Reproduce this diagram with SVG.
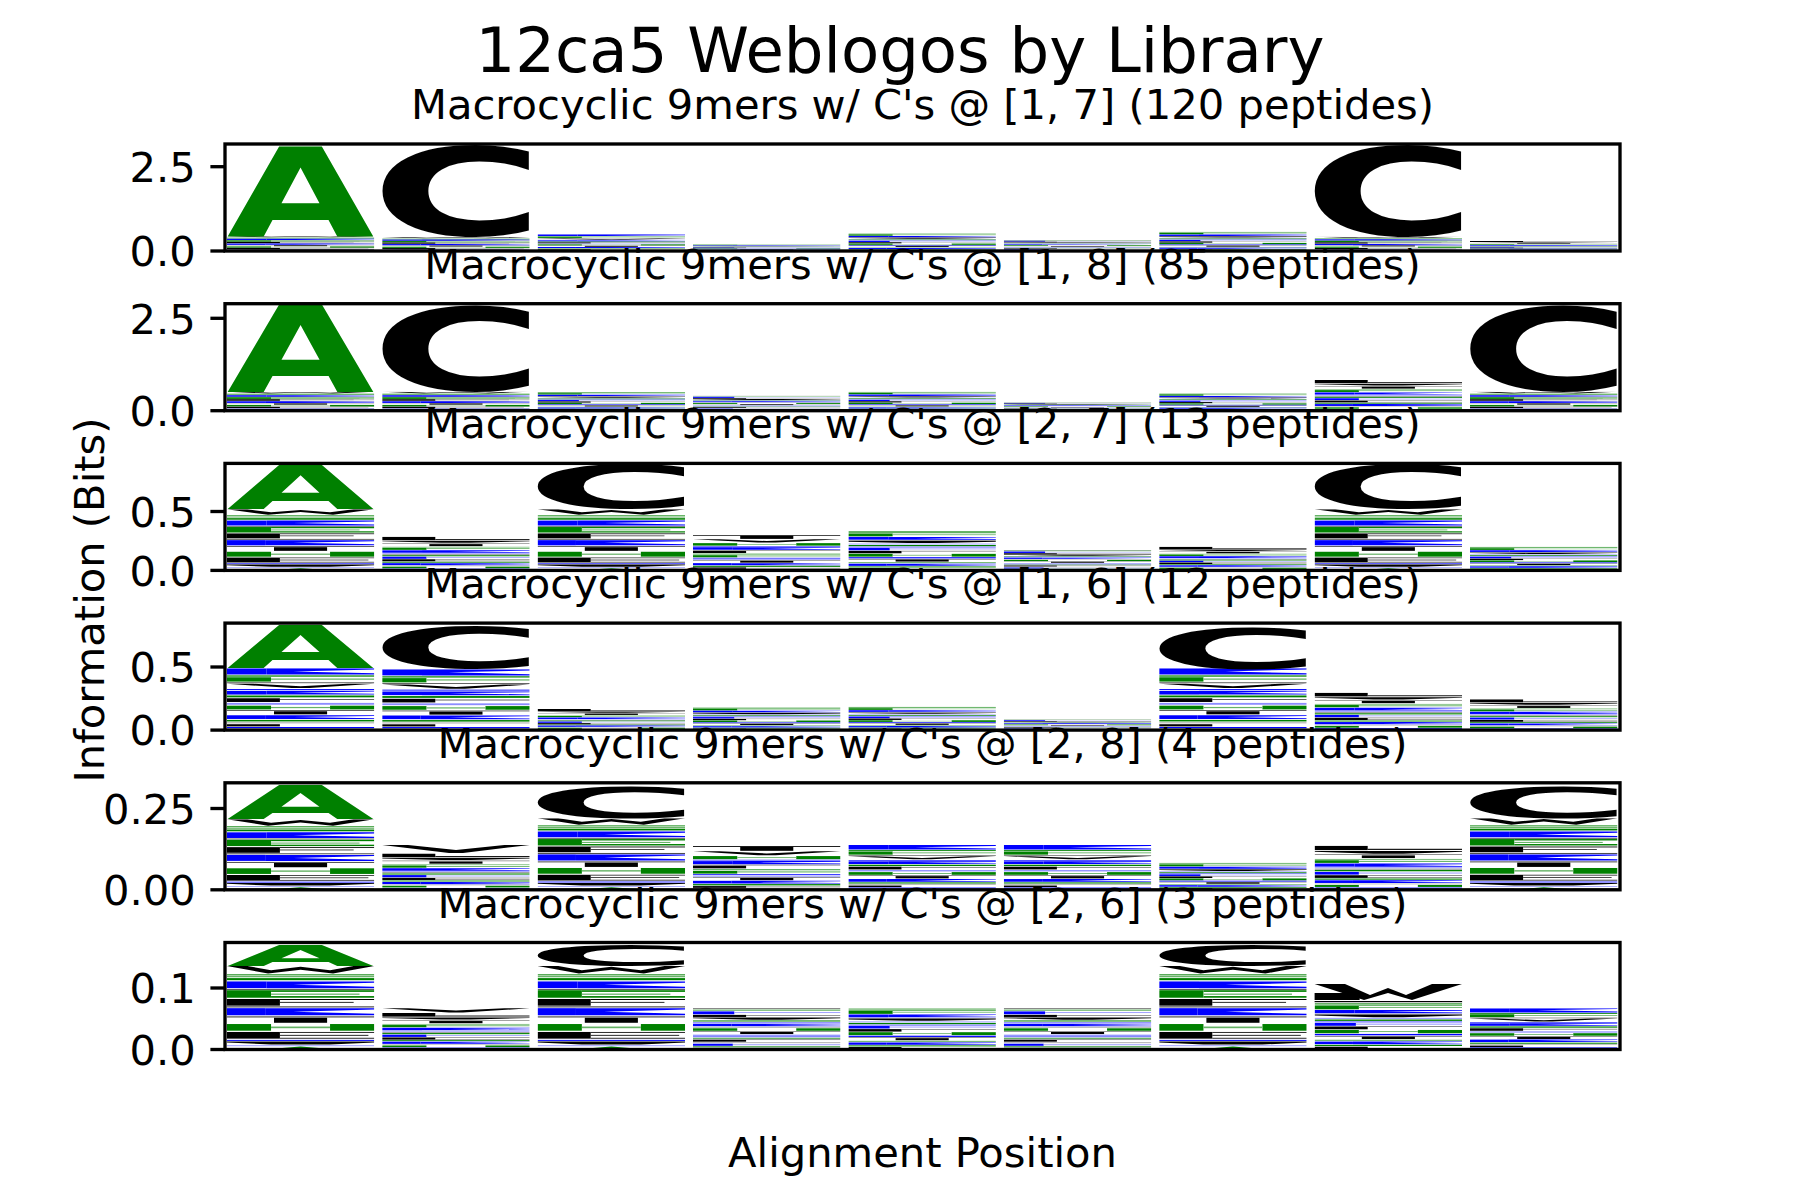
<svg xmlns="http://www.w3.org/2000/svg" width="1800" height="1200" viewBox="0 0 1800 1200">
<style>
text{font-family:"DejaVu Sans","Liberation Sans",sans-serif;fill:#000}
.ax{fill:none;stroke:#000;stroke-width:3.33}
.tk{stroke:#000;stroke-width:3.33}
.tl{font-size:41.67px;text-anchor:end}
.tt{font-size:41.67px;text-anchor:middle}
.big{font-weight:bold;font-size:100px}
.lA{fill:#008000}
.lC{fill:#000}
.g{fill:#008000}.b{fill:#0000ff}.k{fill:#000}.lb{fill:#8c8cff}.lg{fill:#66b266}.gy{fill:#a0a0a0}
</style>
<defs>
<symbol id="sA" viewBox="0 0 100 100" preserveAspectRatio="none">
<polygon class="k" points="0,0 14,0 30,5 50,1 70,5 86,0 100,0 72,9 50,4.5 28,9"/>
<rect class="g" x="0" y="10" width="100" height="1.2"/>
<rect class="lg" x="0" y="12" width="100" height="1.5"/>
<rect class="g" x="0" y="14.5" width="100" height="2.5"/>
<rect class="b" x="0" y="18.5" width="27" height="8"/>
<polygon class="b" points="27,18.5 100,18.5 100,20.1 45,22.5 100,24.9 100,26.5 27,26.5"/>
<rect class="k" x="0" y="27.5" width="100" height="0.8"/>
<rect class="g" x="0" y="29" width="30" height="9"/>
<rect class="g" x="30" y="29" width="70" height="2"/>
<rect class="lg" x="30" y="33" width="60" height="1.5"/>
<rect class="g" x="30" y="36" width="70" height="2"/>
<rect class="k" x="0" y="39.5" width="36" height="8"/>
<rect class="k" x="36" y="39.5" width="64" height="1.2"/>
<rect class="k" x="36" y="43" width="50" height="1"/>
<rect class="k" x="0" y="48.5" width="100" height="1"/>
<rect class="b" x="0" y="50.5" width="26" height="8.5"/>
<polygon class="b" points="26,50.5 100,50.5 100,52.2 45,54.75 100,57.3 100,59 26,59"/>
<rect class="k" x="0" y="60.5" width="100" height="1"/>
<rect class="k" x="32" y="62" width="36" height="6"/>
<rect class="g" x="0" y="69.5" width="30" height="8"/>
<rect class="g" x="70" y="69.5" width="30" height="8"/>
<rect class="lg" x="30" y="72.5" width="40" height="2"/>
<rect class="k" x="0" y="79" width="36" height="8"/>
<rect class="k" x="36" y="79" width="64" height="1"/>
<rect class="k" x="36" y="82.5" width="60" height="1"/>
<rect class="k" x="36" y="86" width="64" height="1"/>
<rect class="b" x="0" y="88.5" width="100" height="1.2"/>
<polygon class="k" points="0,90.5 100,90.5 100,91.5 70,94 30,94 0,91.5"/>
<rect class="lb" x="0" y="95" width="100" height="1"/>
<polygon class="g" points="25,100 50,96.5 75,100"/>
<rect class="k" x="0" y="98.5" width="30" height="1.5"/>
<rect class="k" x="70" y="98.5" width="30" height="1.5"/>
</symbol>
<symbol id="sB1" viewBox="0 0 100 100" preserveAspectRatio="none">
<rect class="k" x="0" y="0" width="36" height="10"/>
<rect class="k" x="36" y="7" width="64" height="2.5"/>
<polygon class="k" points="0,12 100,12 100,13.5 60,18 40,18 0,13.5"/>
<rect class="k" x="0" y="20" width="100" height="1"/>
<rect class="k" x="32" y="22" width="36" height="6"/>
<rect class="lg" x="0" y="30" width="100" height="2"/>
<rect class="g" x="0" y="33" width="30" height="6"/>
<rect class="g" x="30" y="34.5" width="70" height="1.5"/>
<rect class="b" x="0" y="40.5" width="27" height="7"/>
<polygon class="b" points="27,40.5 100,40.5 100,41.9 45,44 100,46.1 100,47.5 27,47.5"/>
<rect class="lb" x="0" y="49" width="100" height="2"/>
<rect class="k" x="0" y="52.5" width="100" height="1"/>
<rect class="g" x="0" y="55" width="100" height="3"/>
<rect class="b" x="0" y="59.5" width="30" height="6"/>
<rect class="lb" x="30" y="61" width="70" height="2"/>
<rect class="k" x="0" y="67" width="36" height="6"/>
<rect class="k" x="36" y="67" width="64" height="1"/>
<rect class="k" x="36" y="71.5" width="64" height="1"/>
<rect class="g" x="0" y="74.5" width="100" height="2.5"/>
<rect class="b" x="0" y="78.5" width="26" height="6"/>
<polygon class="b" points="26,78.5 100,78.5 100,79.7 45,81.5 100,83.3 100,84.5 26,84.5"/>
<rect class="gy" x="0" y="86" width="100" height="1.5"/>
<rect class="g" x="0" y="89" width="30" height="4.5"/>
<rect class="g" x="70" y="89" width="30" height="4.5"/>
<rect class="b" x="0" y="95" width="100" height="2"/>
<rect class="g" x="0" y="98" width="100" height="2"/>
</symbol>
<symbol id="sB2" viewBox="0 0 100 100" preserveAspectRatio="none">
<rect class="k" x="0" y="0" width="100" height="2"/>
<rect class="k" x="32" y="2" width="36" height="9"/>
<polygon class="k" points="0,12 18,12 50,17 82,12 100,12 56,21 44,21"/>
<rect class="g" x="0" y="23" width="30" height="7"/>
<rect class="g" x="70" y="23" width="30" height="7"/>
<rect class="lg" x="30" y="25.5" width="40" height="2"/>
<rect class="b" x="0" y="31.5" width="100" height="1.5"/>
<rect class="b" x="0" y="34.5" width="27" height="7"/>
<polygon class="b" points="27,34.5 100,34.5 100,35.9 45,38 100,40.1 100,41.5 27,41.5"/>
<rect class="k" x="0" y="43" width="100" height="1"/>
<rect class="k" x="0" y="45" width="36" height="6"/>
<rect class="lg" x="0" y="52.5" width="100" height="3"/>
<rect class="g" x="0" y="57" width="30" height="6"/>
<rect class="g" x="30" y="58.5" width="70" height="1.5"/>
<rect class="b" x="0" y="64.5" width="100" height="2"/>
<rect class="lb" x="0" y="68" width="100" height="2"/>
<rect class="k" x="0" y="71.5" width="100" height="1"/>
<rect class="k" x="32" y="73" width="36" height="5"/>
<rect class="b" x="0" y="79.5" width="26" height="6"/>
<polygon class="b" points="26,79.5 100,79.5 100,80.7 45,82.5 100,84.3 100,85.5 26,85.5"/>
<rect class="g" x="0" y="87" width="100" height="3"/>
<rect class="k" x="0" y="91.5" width="36" height="4"/>
<rect class="k" x="36" y="93" width="64" height="1"/>
<rect class="gy" x="0" y="96.5" width="100" height="1.5"/>
<rect class="g" x="0" y="98.5" width="100" height="1.5"/>
</symbol>
<symbol id="sC" viewBox="0 0 100 100" preserveAspectRatio="none">
<rect class="lg" x="0" y="0" width="100" height="2.5"/>
<rect class="g" x="0" y="3.5" width="100" height="2"/>
<rect class="g" x="0" y="6.5" width="30" height="7"/>
<rect class="lg" x="30" y="8.5" width="70" height="2"/>
<rect class="b" x="0" y="15" width="27" height="7"/>
<polygon class="b" points="27,15 100,15 100,16.4 45,18.5 100,20.6 100,22 27,22"/>
<rect class="k" x="0" y="23.5" width="100" height="1"/>
<polygon class="k" points="0,25.5 100,25.5 100,27 60,30.5 40,30.5 0,27"/>
<rect class="lb" x="0" y="32" width="100" height="2"/>
<rect class="g" x="0" y="35.5" width="100" height="3"/>
<rect class="b" x="0" y="40" width="100" height="1.5"/>
<rect class="b" x="0" y="43" width="28" height="6"/>
<rect class="lb" x="28" y="44.5" width="72" height="2"/>
<rect class="k" x="0" y="50.5" width="36" height="6"/>
<rect class="k" x="36" y="50.5" width="64" height="1"/>
<rect class="g" x="0" y="58" width="30" height="7"/>
<rect class="g" x="70" y="58" width="30" height="7"/>
<rect class="lg" x="30" y="60.5" width="40" height="2"/>
<rect class="b" x="0" y="66.5" width="100" height="3"/>
<rect class="k" x="0" y="71" width="100" height="1"/>
<rect class="k" x="32" y="72.5" width="36" height="5"/>
<rect class="lg" x="0" y="79" width="100" height="2.5"/>
<rect class="b" x="0" y="83" width="26" height="5.5"/>
<polygon class="b" points="26,83 100,83 100,84.1 45,85.75 100,87.4 100,88.5 26,88.5"/>
<rect class="g" x="0" y="90" width="100" height="2.5"/>
<rect class="k" x="0" y="94" width="36" height="3"/>
<rect class="lb" x="0" y="97.5" width="100" height="2.5"/>
</symbol>
<symbol id="sD" viewBox="0 0 100 100" preserveAspectRatio="none">
<rect class="b" x="0" y="0" width="27" height="10"/>
<polygon class="b" points="27,0 100,0 100,2 45,5 100,8 100,10 27,10"/>
<rect class="g" x="0" y="11.5" width="100" height="2"/>
<rect class="g" x="0" y="14.5" width="30" height="7"/>
<rect class="lg" x="30" y="16.5" width="70" height="2"/>
<rect class="k" x="0" y="23" width="100" height="1"/>
<polygon class="k" points="0,25 18,25 50,29 82,25 100,25 56,32 44,32"/>
<rect class="b" x="0" y="33.5" width="100" height="1.5"/>
<rect class="b" x="0" y="36.5" width="27" height="6"/>
<polygon class="b" points="27,36.5 100,36.5 100,37.7 45,39.5 100,41.3 100,42.5 27,42.5"/>
<rect class="g" x="0" y="44" width="100" height="3"/>
<rect class="k" x="0" y="48.5" width="36" height="6"/>
<rect class="k" x="36" y="50" width="64" height="1"/>
<rect class="lb" x="0" y="56" width="100" height="3"/>
<rect class="g" x="0" y="60.5" width="30" height="6"/>
<rect class="g" x="70" y="60.5" width="30" height="6"/>
<rect class="lg" x="30" y="62.5" width="40" height="2"/>
<rect class="k" x="0" y="68" width="100" height="1"/>
<rect class="k" x="32" y="69.5" width="36" height="5"/>
<rect class="b" x="0" y="76" width="26" height="6"/>
<polygon class="b" points="26,76 100,76 100,77.2 45,79 100,80.8 100,82 26,82"/>
<rect class="g" x="0" y="83.5" width="100" height="2.5"/>
<rect class="gy" x="0" y="87.5" width="100" height="1.5"/>
<rect class="k" x="0" y="90.5" width="36" height="3.5"/>
<rect class="b" x="0" y="95" width="100" height="2"/>
<rect class="g" x="0" y="98" width="100" height="2"/>
</symbol>
<symbol id="sE" viewBox="0 0 100 100" preserveAspectRatio="none">
<rect class="k" x="0" y="0" width="100" height="1.5"/>
<rect class="lg" x="0" y="3" width="100" height="3"/>
<rect class="b" x="0" y="7.5" width="28" height="7"/>
<rect class="lb" x="28" y="9.5" width="72" height="2"/>
<rect class="k" x="0" y="16" width="36" height="5"/>
<rect class="k" x="36" y="17.5" width="64" height="1"/>
<polygon class="k" points="0,22.5 100,22.5 100,24 60,28 40,28 0,24"/>
<rect class="g" x="0" y="29.5" width="100" height="2.5"/>
<rect class="lb" x="0" y="33.5" width="100" height="2.5"/>
<rect class="b" x="0" y="37.5" width="26" height="6"/>
<polygon class="b" points="26,37.5 100,37.5 100,38.7 45,40.5 100,42.3 100,43.5 26,43.5"/>
<rect class="gy" x="0" y="45" width="100" height="2"/>
<rect class="g" x="0" y="48.5" width="30" height="6"/>
<rect class="g" x="70" y="48.5" width="30" height="6"/>
<rect class="k" x="0" y="56" width="100" height="1"/>
<rect class="k" x="32" y="57.5" width="36" height="5"/>
<rect class="lb" x="0" y="64" width="100" height="3"/>
<rect class="b" x="0" y="68.5" width="100" height="1.5"/>
<rect class="lg" x="0" y="71.5" width="100" height="3"/>
<rect class="k" x="0" y="76" width="36" height="5"/>
<rect class="k" x="36" y="76" width="64" height="1"/>
<rect class="gy" x="0" y="82.5" width="100" height="2"/>
<rect class="b" x="0" y="86" width="27" height="5"/>
<rect class="lb" x="27" y="87.5" width="73" height="2"/>
<rect class="g" x="0" y="92.5" width="100" height="2"/>
<rect class="k" x="0" y="96" width="100" height="1"/>
<rect class="lb" x="0" y="98" width="100" height="2"/>
</symbol>
</defs>
<rect width="1800" height="1200" fill="#fff"/>
<text id="suptitle" x="900" y="72" style="font-size:62.5px;text-anchor:middle">12ca5 Weblogos by Library</text>
<text id="ylabel" transform="translate(103.5,600) rotate(-90)" class="tt">Information (Bits)</text>
<text id="xlabel" x="922.5" y="1167" class="tt">Alignment Position</text>

<g id="panel1">
<text class="tt" x="922.5" y="119">Macrocyclic 9mers w/ C's @ [1, 7] (120 peptides)</text>
<use href="#sA" x="226.8" y="236" width="147.5" height="15"/>
<use href="#sA" x="382.2" y="237" width="147.5" height="14"/>
<use href="#sD" x="537.6" y="234.3" width="147.5" height="16.7"/>
<use href="#sC" x="693" y="244.3" width="147.5" height="6.7"/>
<use href="#sC" x="848.4" y="233.3" width="147.5" height="17.7"/>
<use href="#sE" x="1003.8" y="240" width="147.5" height="11"/>
<use href="#sC" x="1159.2" y="231.7" width="147.5" height="19.3"/>
<use href="#sA" x="1314.6" y="236.7" width="147.5" height="14.3"/>
<use href="#sB1" x="1470" y="241" width="147.5" height="10"/>
<text class="big lA" transform="translate(226.8,236) scale(1.906,1.2387)" x="0" y="0">A</text>
<text class="big lC" transform="translate(382.2,237) scale(2.36,1.2077)" x="-4.9" y="-1.4">C</text>
<text class="big lC" transform="translate(1314.6,236.7) scale(2.36,1.2037)" x="-4.9" y="-1.4">C</text>
<rect class="ax" x="225" y="144" width="1395" height="107"/>
<line class="tk" x1="210.4" y1="251" x2="225" y2="251"/>
<line class="tk" x1="210.4" y1="166.7" x2="225" y2="166.7"/>
<text class="tl" x="195.8" y="266.2">0.0</text>
<text class="tl" x="195.8" y="181.9">2.5</text>
</g>

<g id="panel2">
<text class="tt" x="922.5" y="278.7">Macrocyclic 9mers w/ C's @ [1, 8] (85 peptides)</text>
<use href="#sA" x="226.8" y="391.7" width="147.5" height="19"/>
<use href="#sA" x="382.2" y="391.7" width="147.5" height="19"/>
<use href="#sC" x="537.6" y="392" width="147.5" height="18.7"/>
<use href="#sE" x="693" y="395.7" width="147.5" height="15"/>
<use href="#sC" x="848.4" y="391.7" width="147.5" height="19"/>
<use href="#sE" x="1003.8" y="402.3" width="147.5" height="8.4"/>
<use href="#sC" x="1159.2" y="393.3" width="147.5" height="17.4"/>
<use href="#sB1" x="1314.6" y="380" width="147.5" height="30.7"/>
<use href="#sA" x="1470" y="391.7" width="147.5" height="19"/>
<text class="big lA" transform="translate(226.8,391.7) scale(1.906,1.1893)" x="0" y="0">A</text>
<text class="big lC" transform="translate(382.2,391.7) scale(2.36,1.1468)" x="-4.9" y="-1.4">C</text>
<text class="big lC" transform="translate(1470,391.7) scale(2.36,1.1468)" x="-4.9" y="-1.4">C</text>
<rect class="ax" x="225" y="303.7" width="1395" height="107"/>
<line class="tk" x1="210.4" y1="410.7" x2="225" y2="410.7"/>
<line class="tk" x1="210.4" y1="318.3" x2="225" y2="318.3"/>
<text class="tl" x="195.8" y="425.9">0.0</text>
<text class="tl" x="195.8" y="333.5">2.5</text>
</g>

<g id="panel3">
<text class="tt" x="922.5" y="438.4">Macrocyclic 9mers w/ C's @ [2, 7] (13 peptides)</text>
<use href="#sA" x="226.8" y="509.3" width="147.5" height="61.1"/>
<use href="#sB1" x="382.2" y="536.7" width="147.5" height="33.7"/>
<use href="#sA" x="537.6" y="509.3" width="147.5" height="61.1"/>
<use href="#sB2" x="693" y="535" width="147.5" height="35.4"/>
<use href="#sC" x="848.4" y="531" width="147.5" height="39.4"/>
<use href="#sE" x="1003.8" y="550" width="147.5" height="20.4"/>
<use href="#sB1" x="1159.2" y="546.7" width="147.5" height="23.7"/>
<use href="#sA" x="1314.6" y="509.3" width="147.5" height="61.1"/>
<use href="#sC" x="1470" y="546.7" width="147.5" height="23.7"/>
<text class="big lA" transform="translate(226.8,509.3) scale(1.906,0.6077)" x="0" y="0">A</text>
<text class="big lC" transform="translate(537.6,509.3) scale(2.36,0.586)" x="-4.9" y="-1.4">C</text>
<text class="big lC" transform="translate(1314.6,509.3) scale(2.36,0.586)" x="-4.9" y="-1.4">C</text>
<rect class="ax" x="225" y="463.4" width="1395" height="107"/>
<line class="tk" x1="210.4" y1="570.4" x2="225" y2="570.4"/>
<line class="tk" x1="210.4" y1="511.5" x2="225" y2="511.5"/>
<text class="tl" x="195.8" y="585.6">0.0</text>
<text class="tl" x="195.8" y="526.7">0.5</text>
</g>

<g id="panel4">
<text class="tt" x="922.5" y="598.1">Macrocyclic 9mers w/ C's @ [1, 6] (12 peptides)</text>
<use href="#sD" x="226.8" y="668.3" width="147.5" height="61.8"/>
<use href="#sD" x="382.2" y="669.3" width="147.5" height="60.8"/>
<use href="#sB1" x="537.6" y="709" width="147.5" height="21.1"/>
<use href="#sC" x="693" y="707.3" width="147.5" height="22.8"/>
<use href="#sC" x="848.4" y="706.7" width="147.5" height="23.4"/>
<use href="#sE" x="1003.8" y="719.3" width="147.5" height="10.8"/>
<use href="#sD" x="1159.2" y="668.3" width="147.5" height="61.8"/>
<use href="#sB1" x="1314.6" y="692.7" width="147.5" height="37.4"/>
<use href="#sB1" x="1470" y="699.3" width="147.5" height="30.8"/>
<text class="big lA" transform="translate(226.8,668.3) scale(1.906,0.5802)" x="0" y="0">A</text>
<text class="big lC" transform="translate(382.2,669.3) scale(2.36,0.5728)" x="-4.9" y="-1.4">C</text>
<text class="big lC" transform="translate(1159.2,668.3) scale(2.36,0.5595)" x="-4.9" y="-1.4">C</text>
<rect class="ax" x="225" y="623.1" width="1395" height="107"/>
<line class="tk" x1="210.4" y1="730.1" x2="225" y2="730.1"/>
<line class="tk" x1="210.4" y1="667" x2="225" y2="667"/>
<text class="tl" x="195.8" y="745.3">0.0</text>
<text class="tl" x="195.8" y="682.2">0.5</text>
</g>

<g id="panel5">
<text class="tt" x="922.5" y="757.8">Macrocyclic 9mers w/ C's @ [2, 8] (4 peptides)</text>
<use href="#sA" x="226.8" y="819.3" width="147.5" height="70.5"/>
<polygon class="k" points="382.2,845 408,845 456,850 504.5,845 529.7,845 463,853 449,853"/>
<use href="#sB1" x="382.2" y="853.5" width="147.5" height="36.3"/>
<use href="#sA" x="537.6" y="818.3" width="147.5" height="71.5"/>
<use href="#sB2" x="693" y="846" width="147.5" height="43.8"/>
<use href="#sD" x="848.4" y="845" width="147.5" height="44.8"/>
<use href="#sD" x="1003.8" y="845" width="147.5" height="44.8"/>
<use href="#sC" x="1159.2" y="862.7" width="147.5" height="27.1"/>
<use href="#sB1" x="1314.6" y="845.7" width="147.5" height="44.1"/>
<use href="#sA" x="1470" y="818.3" width="147.5" height="71.5"/>
<text class="big lA" transform="translate(226.8,819.3) scale(1.906,0.4568)" x="0" y="0">A</text>
<text class="big lC" transform="translate(537.6,818.3) scale(2.36,0.4272)" x="-4.9" y="-1.4">C</text>
<text class="big lC" transform="translate(1470,818.3) scale(2.36,0.4272)" x="-4.9" y="-1.4">C</text>
<rect class="ax" x="225" y="782.8" width="1395" height="107"/>
<line class="tk" x1="210.4" y1="889.8" x2="225" y2="889.8"/>
<line class="tk" x1="210.4" y1="808.5" x2="225" y2="808.5"/>
<text class="tl" x="195.8" y="905">0.00</text>
<text class="tl" x="195.8" y="823.7">0.25</text>
</g>

<g id="panel6">
<text class="tt" x="922.5" y="917.5">Macrocyclic 9mers w/ C's @ [2, 6] (3 peptides)</text>
<use href="#sA" x="226.8" y="966" width="147.5" height="83.5"/>
<polygon class="k" points="382.2,1008.3 408,1008.3 456,1010.5 504.5,1008.3 529.7,1008.3 463,1012.5 449,1012.5"/>
<use href="#sB1" x="382.2" y="1013" width="147.5" height="36.5"/>
<use href="#sA" x="537.6" y="966" width="147.5" height="83.5"/>
<use href="#sE" x="693" y="1008.3" width="147.5" height="41.2"/>
<use href="#sC" x="848.4" y="1008.3" width="147.5" height="41.2"/>
<use href="#sE" x="1003.8" y="1008.3" width="147.5" height="41.2"/>
<use href="#sA" x="1159.2" y="966" width="147.5" height="83.5"/>
<polygon class="k" points="1314.6,984 1345,984 1370,995 1388,988 1406,995 1432,984 1462,984 1412,1000 1388,993 1364,1000"/>
<rect class="k" x="1314.6" y="993" width="45" height="7"/>
<rect class="k" x="1314.6" y="1001" width="147.5" height="1.2"/>
<use href="#sC" x="1314.6" y="1003" width="147.5" height="46.5"/>
<use href="#sD" x="1470" y="1008.3" width="147.5" height="41.2"/>
<text class="big lA" transform="translate(226.8,966) scale(1.906,0.288)" x="0" y="0">A</text>
<text class="big lC" transform="translate(537.6,966) scale(2.36,0.2778)" x="-4.9" y="-1.4">C</text>
<text class="big lC" transform="translate(1159.2,966) scale(2.36,0.2778)" x="-4.9" y="-1.4">C</text>
<rect class="ax" x="225" y="942.5" width="1395" height="107"/>
<line class="tk" x1="210.4" y1="1049.5" x2="225" y2="1049.5"/>
<line class="tk" x1="210.4" y1="988" x2="225" y2="988"/>
<text class="tl" x="195.8" y="1064.7">0.0</text>
<text class="tl" x="195.8" y="1003.2">0.1</text>
</g>
</svg>
